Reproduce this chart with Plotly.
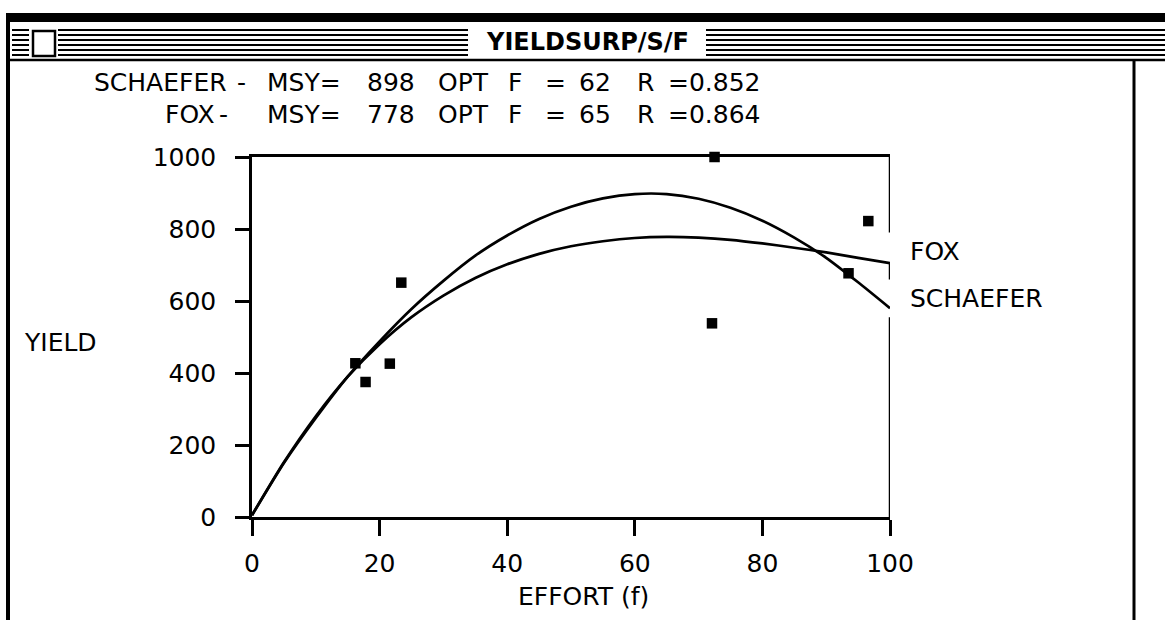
import plotly.graph_objects as go

# ---------------- data ----------------
effort_obs = [16.2, 17.8, 21.6, 23.4, 72.1, 72.5, 93.5, 96.6]
yield_obs = [427, 375, 426, 651, 538, 1000, 677, 822]

effort_curve = [0, 5, 10, 15, 20, 25, 30, 35, 40, 45, 50,
                55, 60, 65, 70, 75, 80, 85, 90, 95, 100]
schaefer_curve = [5, 150, 275, 390, 488, 578, 656, 726, 782, 828, 862,
                  885, 897, 897, 884, 859, 823, 776, 720, 652, 580]
fox_curve = [5, 152, 280, 390, 480, 555, 615, 664, 702, 731, 752,
             766, 775, 778, 776, 770, 760, 748, 735, 720, 705]

x_ticks = [0, 20, 40, 60, 80, 100]
y_ticks = [0, 200, 400, 600, 800, 1000]

title_text = "YIELDSURP/S/F"
schaefer_stats = ["SCHAEFER", "-", "MSY=", "898", "OPT", "F", "=", "62", "R", "=0.852"]
fox_stats = ["FOX", "-", "MSY=", "778", "OPT", "F", "=", "65", "R", "=0.864"]

# ---------------- layout helpers ----------------
W, H = 1165, 620
L, R, T, B = 252, 275, 157, 103
PW, PH = W - L - R, H - T - B
FONT = "DejaVu Sans"


def px(x):
    return (x - L) / PW


def py(y):
    return (H - B - y) / PH


fig = go.Figure()

fig.add_trace(go.Scatter(x=effort_curve, y=schaefer_curve, mode="lines",
                         line=dict(color="black", width=2.7, shape="spline", smoothing=0.6),
                         hoverinfo="skip", name="SCHAEFER", cliponaxis=False))
fig.add_trace(go.Scatter(x=effort_curve, y=fox_curve, mode="lines",
                         line=dict(color="black", width=2.7, shape="spline", smoothing=0.6),
                         hoverinfo="skip", name="FOX", cliponaxis=False))
fig.add_trace(go.Scatter(x=effort_obs, y=yield_obs, mode="markers",
                         marker=dict(symbol="square", size=10.5, color="black"),
                         name="obs", cliponaxis=False))

shapes = []


def rect(x0, y0, x1, y1, fill="black", line=None):
    d = dict(type="rect", xref="paper", yref="paper",
             x0=px(x0), x1=px(x1), y0=py(y0), y1=py(y1),
             fillcolor=fill, layer="above")
    d["line"] = line if line else dict(width=0)
    shapes.append(d)


def seg(x0, y0, x1, y1, w=2):
    shapes.append(dict(type="line", xref="paper", yref="paper",
                       x0=px(x0), x1=px(x1), y0=py(y0), y1=py(y1),
                       line=dict(color="black", width=w), layer="above"))


# window chrome
rect(6, 13, W, 22)                     # thick top edge
for yy in [29, 34, 39, 44, 49, 54]:    # title-bar stripes
    rect(12, yy, 29, yy + 2)
    rect(58, yy, 468, yy + 2)
    rect(706, yy, W, yy + 2)
rect(33, 31, 55, 56, fill="white", line=dict(color="black", width=2.5))  # close box
seg(7, 60, W, 60, 2.5)                 # title-bar bottom
seg(8, 13, 8, H, 4)                    # left window edge
seg(1134, 60, 1134, H, 3)              # right edge

# right side of plot frame (broken where curves end)
for y0, y1 in [(790, 1000), (660, 705), (0, 555)]:
    shapes.append(dict(type="line", xref="x", yref="y", x0=100, x1=100, y0=y0, y1=y1,
                       line=dict(color="black", width=2.5), layer="above"))

annotations = []


def ann(text, x, y, xanchor="left", size=25, bold=False):
    annotations.append(dict(text=("<b>%s</b>" % text) if bold else text,
                            xref="paper", yref="paper", x=px(x), y=py(y),
                            xanchor=xanchor, yanchor="middle", showarrow=False,
                            font=dict(family=FONT, size=size, color="black")))


ann(title_text, 587, 42, xanchor="center", size=24, bold=True)

cols = [92, 235, 265, 365, 436, 506, 543, 577, 635, 666]
for txt, cx in zip(schaefer_stats, cols):
    ann(txt, cx, 82)
cols2 = [163, 217, 265, 365, 436, 506, 543, 577, 635, 666]
for txt, cx in zip(fox_stats, cols2):
    ann(txt, cx, 115)

ann("YIELD", 22, 342)
ann("EFFORT (f)", 583, 596, xanchor="center")
ann("FOX", 908, 251)
ann("SCHAEFER", 908, 298)

fig.update_layout(
    width=W, height=H, autosize=False,
    margin=dict(l=L, r=R, t=T, b=B, pad=0),
    paper_bgcolor="white", plot_bgcolor="white",
    showlegend=False,
    shapes=shapes, annotations=annotations,
    font=dict(family=FONT, size=25, color="black"),
    xaxis=dict(range=[0, 100], tickvals=x_ticks, ticktext=[str(v) for v in x_ticks],
               ticks="outside", ticklen=16, tickwidth=2.5, tickcolor="black",
               showline=True, linecolor="black", linewidth=2.5, mirror=True,
               showgrid=False, zeroline=False, fixedrange=True,
               tickfont=dict(family=FONT, size=25, color="black"),
               ticklabelstandoff=6),
    yaxis=dict(range=[0, 1000], tickvals=y_ticks, ticktext=[str(v) for v in y_ticks],
               ticks="outside", ticklen=14, tickwidth=2.5, tickcolor="black",
               showline=True, linecolor="black", linewidth=2.5,
               showgrid=False, zeroline=False, fixedrange=True,
               tickfont=dict(family=FONT, size=25, color="black"),
               ticklabelstandoff=14),
)

fig.write_html(
    "out.html",
    config={"displayModeBar": False},
    post_script="document.body.style.margin='0';document.body.style.padding='0';"
                "document.body.style.overflow='hidden';",
)
